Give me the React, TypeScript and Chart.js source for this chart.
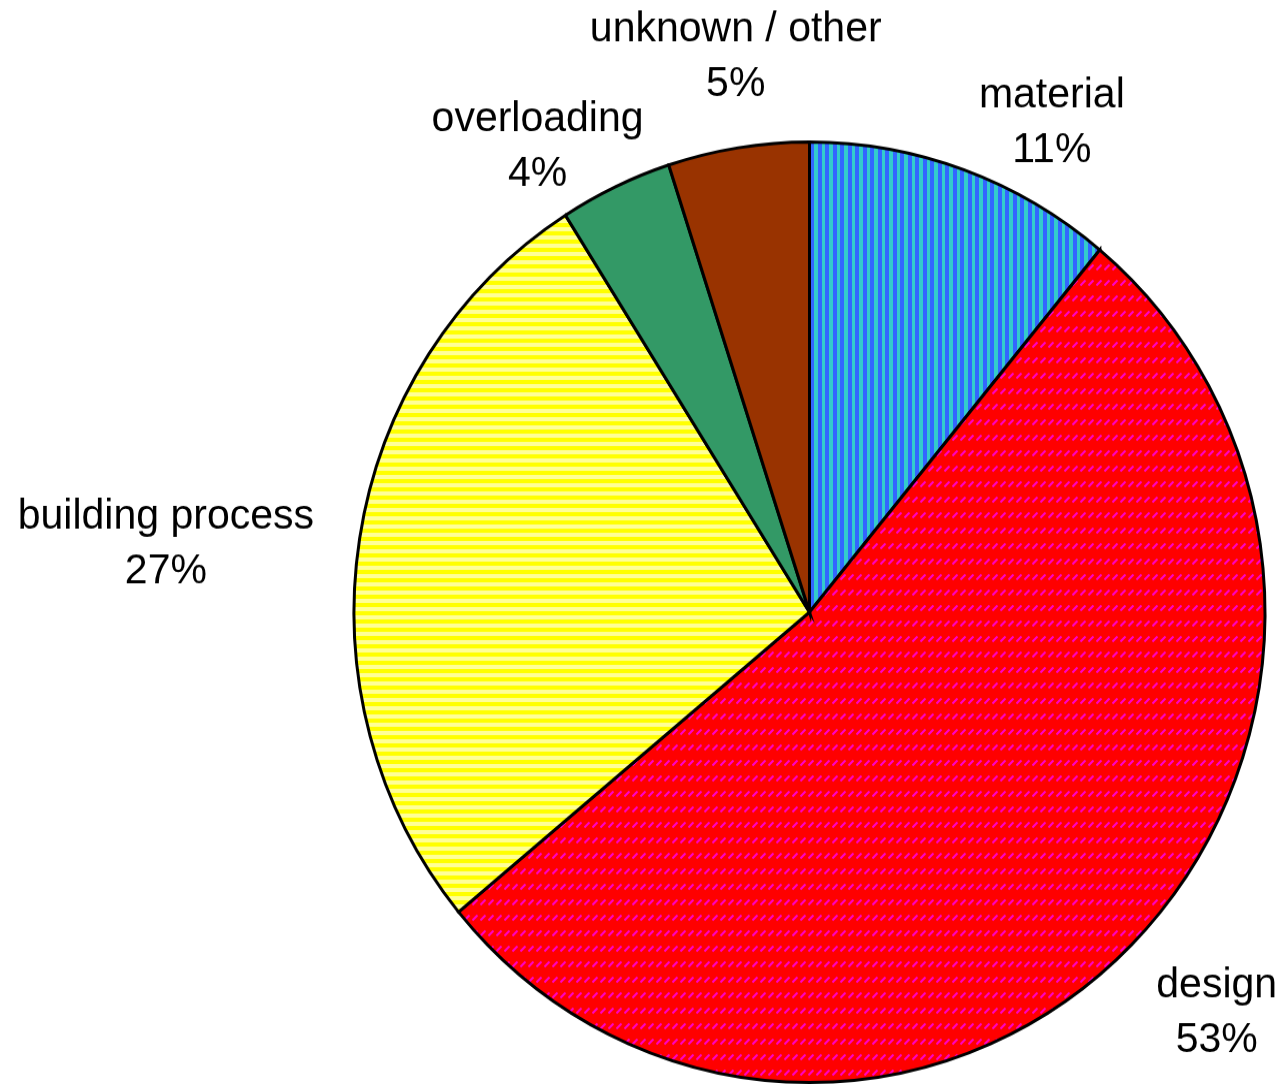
import { useEffect, useRef } from "react";
import { Chart, ArcElement, PieController } from "chart.js";

Chart.register(ArcElement, PieController);

// Causes of structural failures (share of cases, %)
const categories = ["material", "design", "building process", "overloading", "unknown / other"];
const shares = [11, 53, 27, 4, 5];

// Where each label block sits, relative to the pie centre, in units of the radius
const labelAnchors: [number, number][] = [
  [0.532, -1.04],
  [0.894, 0.852],
  [-1.413, -0.144],
  [-0.597, -0.99],
  [-0.162, -1.18],
];

const CANVAS_W = 1284;
const CANVAS_H = 1050;
const STRETCH_Y = 1084 / CANVAS_H;
const CX = 809.5;
const CY = 593;
const RADIUS = 455.5;
const BORDER = 3;

function makeTile(w: number, h: number, paint: (g: CanvasRenderingContext2D) => void) {
  const c = document.createElement("canvas");
  c.width = w;
  c.height = h;
  const g = c.getContext("2d")!;
  paint(g);
  return c;
}

function buildFills(ctx: CanvasRenderingContext2D) {
  // blue / cyan vertical stripes
  const vertical = makeTile(15, 8, (g) => {
    g.fillStyle = "#33CCCC";
    g.fillRect(0, 0, 15, 8);
    g.fillStyle = "#3366FF";
    g.fillRect(0, 0, 4, 8);
    g.fillRect(8, 0, 4, 8);
  });
  // red with magenta diagonal dashes
  const diagonal = makeTile(8, 15, (g) => {
    g.fillStyle = "#FF0000";
    g.fillRect(0, 0, 8, 15);
    g.strokeStyle = "#FF00CC";
    g.lineWidth = 2;
    g.beginPath();
    g.moveTo(0.5, 6.5);
    g.lineTo(5.5, 1.5);
    g.stroke();
  });
  // yellow / pale yellow horizontal stripes
  const horizontal = makeTile(8, 8, (g) => {
    g.fillStyle = "#FFFF00";
    g.fillRect(0, 0, 8, 8);
    g.fillStyle = "#FFFF99";
    g.fillRect(0, 4, 8, 4);
  });
  return [
    ctx.createPattern(vertical, "repeat")!,
    ctx.createPattern(diagonal, "repeat")!,
    ctx.createPattern(horizontal, "repeat")!,
    "#339966",
    "#993300",
  ];
}

const sliceLabels = {
  id: "sliceLabels",
  afterDatasetsDraw(chart: Chart) {
    const meta = chart.getDatasetMeta(0);
    const first = meta.data[0] as any;
    if (!first) return;
    const { x, y, outerRadius } = first.getProps(["x", "y", "outerRadius"], true);
    const ctx = chart.ctx;
    ctx.save();
    ctx.fillStyle = "#000";
    ctx.font = '41px "Liberation Sans", Arial, sans-serif';
    ctx.textAlign = "center";
    ctx.textBaseline = "middle";
    const lineGap = 53;
    meta.data.forEach((_arc, i) => {
      const [ax, ay] = labelAnchors[i];
      const lx = x + ax * outerRadius;
      const ly = y + ay * outerRadius;
      ctx.fillText(categories[i], lx, ly - lineGap / 2);
      ctx.fillText(`${shares[i]}%`, lx, ly + lineGap / 2);
    });
    ctx.restore();
  },
};

export default function App() {
  const canvasRef = useRef<HTMLCanvasElement | null>(null);

  useEffect(() => {
    const canvas = canvasRef.current;
    if (!canvas) return;
    const ctx = canvas.getContext("2d")!;
    const half = RADIUS + BORDER / 2;
    const chart = new Chart(ctx, {
      type: "pie",
      data: {
        labels: categories,
        datasets: [
          {
            data: shares,
            backgroundColor: buildFills(ctx) as any,
            borderColor: "#000000",
            borderWidth: BORDER,
            borderJoinStyle: "miter" as any,
          },
        ],
      },
      options: {
        responsive: false,
        animation: false,
        events: [],
        layout: {
          padding: {
            left: CX - half,
            right: CANVAS_W - (CX + half),
            top: CY - half,
            bottom: CANVAS_H - (CY + half),
          },
        },
        plugins: {
          legend: { display: false },
          tooltip: { enabled: false },
        },
      },
      plugins: [sliceLabels],
    });
    return () => chart.destroy();
  }, []);

  return (
    <div
      style={{
        position: "fixed",
        left: 0,
        top: 0,
        width: CANVAS_W,
        height: 1084,
        background: "#ffffff",
        overflow: "hidden",
      }}
    >
      <div style={{ transform: `scaleY(${STRETCH_Y})`, transformOrigin: "0 0" }}>
        <canvas
          ref={canvasRef}
          width={CANVAS_W}
          height={CANVAS_H}
          style={{ display: "block", width: CANVAS_W, height: CANVAS_H }}
        />
      </div>
    </div>
  );
}
